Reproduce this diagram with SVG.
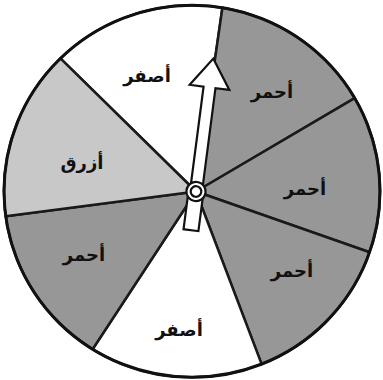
<svg xmlns="http://www.w3.org/2000/svg" width="383" height="380" viewBox="0 0 383 380">
<style>
.sec{stroke:#1a1a1a;stroke-width:2.5;stroke-linejoin:round}
.red{fill:#979797}
.yel{fill:#ffffff}
.blu{fill:#c8c8c8}
.lbl{font-family:"DejaVu Sans","Noto Sans",sans-serif;font-weight:bold;font-size:18px;fill:#111;text-anchor:middle}
.ptr{fill:#fff;stroke:#111;stroke-width:2.2;stroke-linejoin:miter}
</style>
<rect width="383" height="380" fill="#fff"/>
<g id="wheel">
<g id="s-yellow-top"><path class="sec yel" d="M196 191.5 L60.4 58.4 A188 186 0 0 1 222.4 7.7 Z"/><text class="lbl" x="147" y="82">أصفر</text></g>
<g id="s-red-1"><path class="sec red" d="M196 191.5 L222.4 7.7 A188 186 0 0 1 354.7 98.2 Z"/><text class="lbl" x="272" y="98">أحمر</text></g>
<g id="s-red-2"><path class="sec red" d="M196 191.5 L354.7 98.2 A188 186 0 0 1 369.6 252.2 Z"/><text class="lbl" x="305" y="195">أحمر</text></g>
<g id="s-red-3"><path class="sec red" d="M196 191.5 L369.6 252.2 A188 186 0 0 1 261.6 364.1 Z"/><text class="lbl" x="292" y="277">أحمر</text></g>
<g id="s-yellow-bottom"><path class="sec yel" d="M196 191.5 L261.6 364.1 A188 186 0 0 1 92.6 349.2 Z"/><text class="lbl" x="179" y="336">أصفر</text></g>
<g id="s-red-4"><path class="sec red" d="M196 191.5 L92.6 349.2 A188 186 0 0 1 5.7 216.2 Z"/><text class="lbl" x="84" y="261">أحمر</text></g>
<g id="s-blue"><path class="sec blu" d="M196 191.5 L5.7 216.2 A188 186 0 0 1 60.4 58.4 Z"/><text class="lbl" x="82" y="169">أزرق</text></g>
<ellipse cx="192" cy="191.3" rx="188" ry="186" fill="none" stroke="#111" stroke-width="3"/>
</g>
<g id="pointer" transform="translate(196 191.5) rotate(7.4)">
<polygon class="ptr" points="0,-134 20,-105 6,-105 6,-5 -6,-5 -6,-105 -20,-105"/>
<rect class="ptr" x="-7.5" y="4" width="15" height="35"/>
<circle class="ptr" cx="0" cy="0" r="9.6" stroke-width="2.5"/>
<circle class="ptr" cx="0" cy="0" r="5.3"/>
</g>
</svg>
